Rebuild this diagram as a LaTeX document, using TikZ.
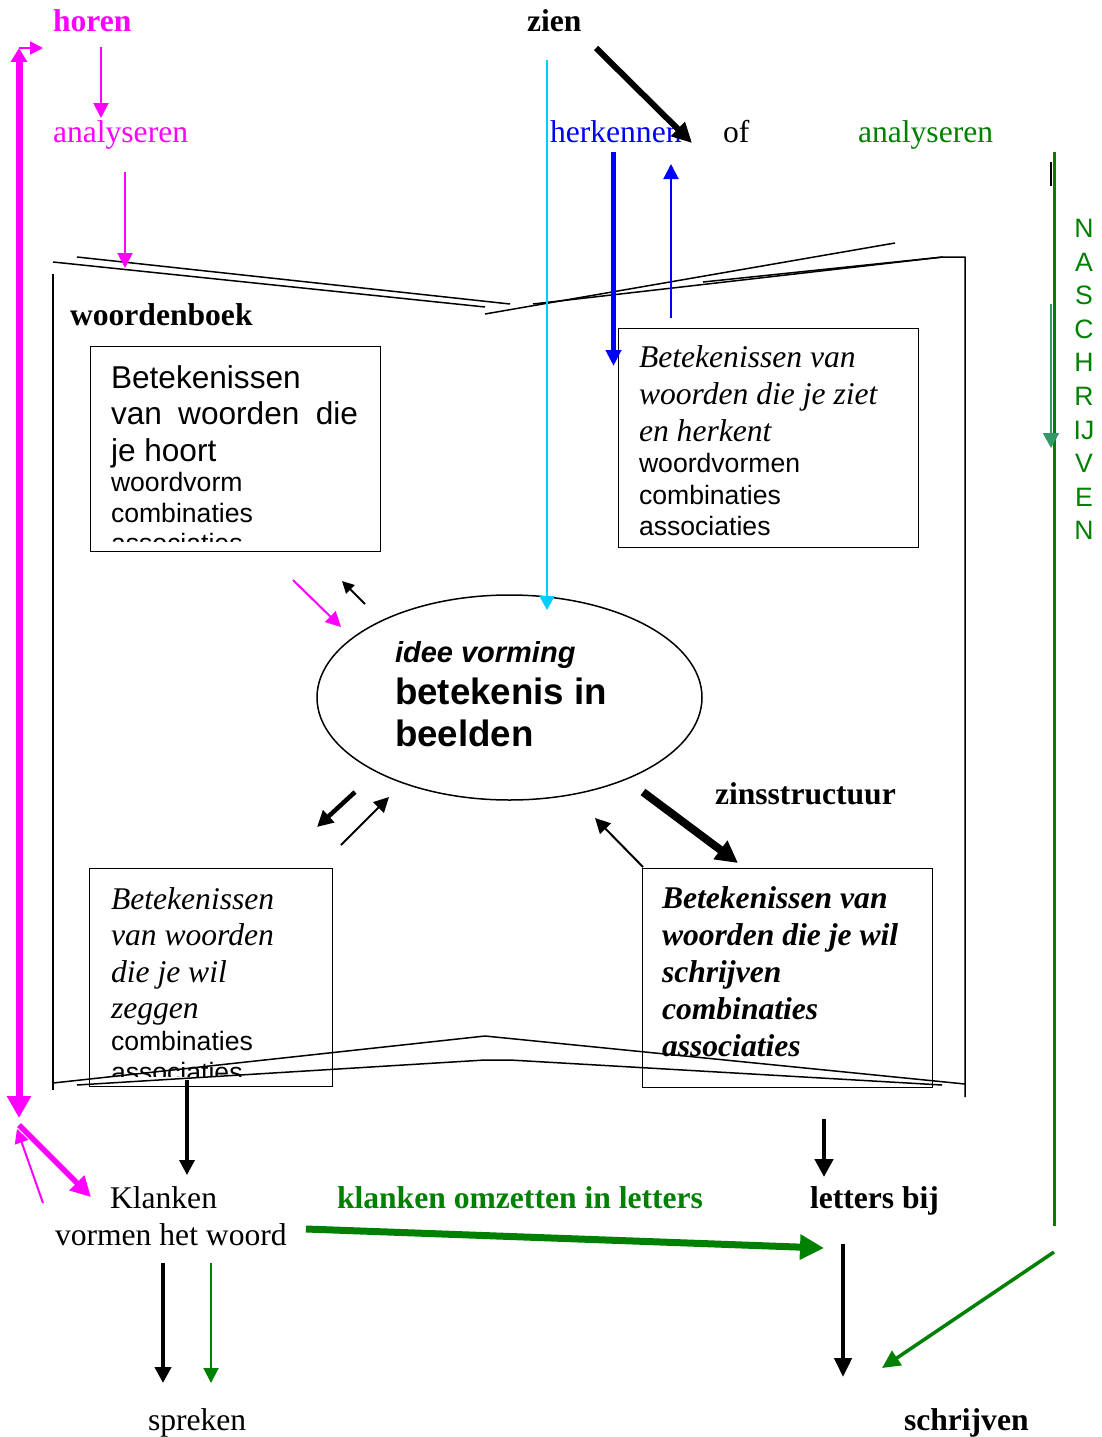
\documentclass[tikz,border=0pt]{standalone}
\usepackage{fontspec}
\setmainfont{Liberation Serif}
\setsansfont{Liberation Sans}
\usetikzlibrary{arrows.meta,shapes.geometric}
\definecolor{mag}{RGB}{255,0,255}
\definecolor{grn}{RGB}{0,128,0}
\definecolor{blu}{RGB}{0,0,255}
\definecolor{cyn}{RGB}{0,204,255}
\definecolor{teal2}{RGB}{51,153,102}
\tikzset{
  txt/.style={inner sep=0pt, outer sep=0pt, anchor=base west},
  fser/.style={font={\fontsize{31.6}{37}\selectfont}},
  fserb/.style={font={\fontsize{31.6}{37}\selectfont\bfseries}},
  bookline/.style={line width=1.5pt, black, line join=round},
  boxx/.style={draw, line width=1.2pt, inner sep=0pt, anchor=north west},
  tipA/.style={-{Triangle[length=#1pt,width=#1pt]}},
}
\begin{document}
\begin{tikzpicture}[x=1pt,y=-1pt]
\useasboundingbox (0,0) rectangle (1101,1437);

% ---------- book outline ----------
\coordinate (tl1a) at (53,262);  \coordinate (tl1b) at (485,307);
\coordinate (tl2a) at (77,257);  \coordinate (tl2b) at (510,304);
\coordinate (tr1a) at (485,314); \coordinate (tr1b) at (895,243);
\coordinate (tr2a) at (533,304); \coordinate (tr2b) at (943,257);
\coordinate (tr3a) at (703,282);
\coordinate (rc)   at (965,257); \coordinate (rb)   at (965,1097);
\coordinate (lvt)  at (53,274);  \coordinate (lvb)  at (53,1090);
\coordinate (bu1)  at (53,1083); \coordinate (bu2)  at (485,1036); \coordinate (bu3) at (965,1084);
\coordinate (bl1)  at (77,1085); \coordinate (bl2)  at (485,1060); \coordinate (bl3) at (510,1060); \coordinate (bl4) at (942,1085);
\draw[bookline] (tl1a) -- (tl1b);
\draw[bookline] (tl2a) -- (tl2b);
\draw[bookline] (tr1a) -- (tr1b);
\draw[bookline] (tr2a) -- (tr2b) -- (rc) -- (rb);
\draw[bookline] (tr3a) -- (tr2b);
\draw[bookline] (lvt) -- (lvb);
\draw[bookline] (bu1) -- (bu2) -- (bu3);
\draw[bookline] (bl1) -- (bl2) -- (bl3) -- (bl4);

% ---------- top labels ----------
\node[txt, fserb, text=mag] (horen) at (53,32) {horen};
\node[txt, fserb] (zien) at (527,32) {zien};
\node[txt, fser, text=mag] (anaL) at (53,142) {analyseren};
\node[txt, fser, text=blu] (herk) at (550,142) {herkennen};
\node[txt, fser] (of) at (723,142) {of};
\node[txt, fser, text=grn] (anaR) at (858,142) {analyseren};
\node[txt, fserb] (wb) at (70,325) {woordenboek};
\node[txt, fserb] (zins) at (715,804) {zinsstructuur};

% ---------- boxes ----------
\node[boxx, minimum width=290pt, minimum height=205pt] (boxLT) at (90,346) {};
\node[boxx, minimum width=300pt, minimum height=219pt] (boxRT) at (618,328) {};
\node[boxx, minimum width=243pt, minimum height=218pt] (boxLB) at (89,868) {};
\node[boxx, minimum width=290pt, minimum height=219pt] (boxRB) at (642,868) {};

\begin{scope}
\clip (90,346) rectangle (380,541);
\node[txt] (tLT) at (111,388) {\begin{minipage}[t]{260pt}\sffamily\fontsize{31.6}{36.5}\selectfont
Betekenissen\\\makebox[247pt][s]{van woorden die}\\je hoort\par
\fontsize{26.6}{30.5}\selectfont woordvorm\\combinaties\\associaties\end{minipage}};
\end{scope}

\node[txt] (tRT) at (639,367) {\begin{minipage}[t]{275pt}\fontsize{31.6}{37}\selectfont\itshape
Betekenissen van\\woorden die je ziet\\en herkent\par
\sffamily\upshape\fontsize{26.6}{31.5}\selectfont woordvormen\\combinaties\\associaties\end{minipage}};

\begin{scope}
\clip (89,868) rectangle (332,1076);
\node[txt] (tLB) at (111,909) {\begin{minipage}[t]{215pt}\fontsize{31.6}{36.5}\selectfont\itshape
Betekenissen\\van woorden\\die je wil\\zeggen\par
\sffamily\upshape\fontsize{26.6}{31.5}\selectfont combinaties\\associaties\end{minipage}};
\end{scope}

\node[txt] (tRB) at (662,908) {\begin{minipage}[t]{265pt}\fontsize{31.6}{37}\selectfont\bfseries\itshape
Betekenissen van\\woorden die je wil\\schrijven\\combinaties\\associaties\end{minipage}};

% ---------- ellipse ----------
\node[ellipse, draw, line width=1.5pt, minimum width=385pt, minimum height=205pt, inner sep=0pt] (idee) at (509.5,697.5) {};
\node[txt] (ideeT) at (395,662) {\begin{minipage}[t]{240pt}\sffamily\bfseries\itshape\fontsize{29}{34}\selectfont
idee vorming\par\upshape\fontsize{36.7}{42}\selectfont betekenis in\\beelden\end{minipage}};

% ---------- NASCHRIJVEN ----------
\foreach [count=\i] \l in {N,A,S,C,H,R,IJ,V,E,N}
  \node[inner sep=0pt, anchor=base, text=grn, font={\sffamily\fontsize{26.6}{30}\selectfont}] (ns\i) at (1084,{237.5+33.6*(\i-1)}) {\l};

% ---------- bottom labels ----------
\node[txt, fser] (klank1) at (110,1208) {Klanken};
\node[txt, fser] (klank2) at (55,1245) {vormen het woord};
\node[txt, fserb, text=grn] (omzet) at (337,1208) {klanken omzetten in letters};
\node[txt, fserb] (lbij) at (810,1208) {letters bij};
\node[txt, fser] (spr) at (148,1430) {spreken};
\node[txt, fserb] (schr) at (904,1430) {schrijven};

% ---------- coordinates for connector ends ----------
\coordinate (mvT) at (19,48);   \coordinate (mvB) at (19,1118);
\coordinate (mhA) at (19,48);   \coordinate (mhB) at (43,48);
\coordinate (h1) at (101,47);   \coordinate (h2) at (101,118);
\coordinate (a1) at (125,172);  \coordinate (a2) at (125,268);
\coordinate (m1) at (293,580);  \coordinate (m2) at (341,627);
\coordinate (md1) at (19,1125); \coordinate (md2) at (91,1197);
\coordinate (mt1) at (43,1203); \coordinate (mt2) at (17,1129);
\coordinate (z1) at (596,48);   \coordinate (z2) at (692,143);
\coordinate (c1) at (547,60);   \coordinate (c2) at (547,610);
\coordinate (b1) at (613.5,152);\coordinate (b2) at (613.5,366);
\coordinate (bt1) at (671,318); \coordinate (bt2) at (671,164);
\coordinate (g1) at (1054,152); \coordinate (g2) at (1054,1226);
\coordinate (tk1) at (1051,162);\coordinate (tk2) at (1051,186);
\coordinate (te1) at (1051,304);\coordinate (te2) at (1051,448);
\coordinate (gd1) at (1054,1252);\coordinate (gd2) at (882,1368);
\coordinate (gk1) at (306,1229);\coordinate (gk2) at (824,1248);
\coordinate (k1) at (365,604);  \coordinate (k2) at (342,581);
\coordinate (k3) at (355,792);  \coordinate (k4) at (317,827);
\coordinate (k5) at (341,845);  \coordinate (k6) at (389,797);
\coordinate (k7) at (643,792);  \coordinate (k8) at (738,863);
\coordinate (k9) at (643,867);  \coordinate (k10) at (595,818);
\coordinate (d1) at (187,1080); \coordinate (d2) at (187,1175);
\coordinate (d3) at (824,1119); \coordinate (d4) at (824,1177);
\coordinate (d5) at (843,1244); \coordinate (d6) at (843,1377);
\coordinate (d7) at (163,1263); \coordinate (d8) at (163,1383);
\coordinate (d9) at (211,1263); \coordinate (d10) at (211,1383);

% ---------- magenta ----------
\draw[mag, line width=7pt, {Triangle[length=14pt,width=16pt]}-{Triangle[length=22pt,width=23pt]}] (mvT) -- (mvB);
\draw[mag, line width=2pt, tipA=13] (mhA) -- (mhB);
\draw[mag, line width=2pt, tipA=15] (h1) -- (h2);
\draw[mag, line width=2pt, tipA=15] (a1) -- (a2);
\draw[mag, line width=2pt, tipA=15] (m1) -- (m2);
\draw[mag, line width=5.5pt, tipA=20] (md1) -- (md2);
\draw[mag, line width=2pt, tipA=14] (mt1) -- (mt2);

% ---------- zien / blue / cyan ----------
\draw[black, line width=6pt, -{Triangle[length=20pt,width=19pt]}] (z1) -- (z2);
\draw[cyn, line width=1.6pt, -{Triangle[length=14pt,width=15pt]}] (c1) -- (c2);
\draw[blu, line width=5.5pt, -{Triangle[length=16pt,width=15pt]}] (b1) -- (b2);
\draw[blu, line width=2pt, tipA=15] (bt1) -- (bt2);

% ---------- green right ----------
\draw[grn, line width=3pt] (g1) -- (g2);
\draw[black, line width=2.5pt] (tk1) -- (tk2);
\draw[teal2, line width=2pt, -{Triangle[length=15pt,width=16pt]}] (te1) -- (te2);
\draw[grn, line width=3.5pt, -{Triangle[length=18pt,width=17pt]}] (gd1) -- (gd2);
\draw[grn, line width=7pt, -{Triangle[length=24pt,width=24pt]}] (gk1) -- (gk2);

% ---------- black arrows near ellipse ----------
\draw[black, line width=2pt, tipA=12] (k1) -- (k2);
\draw[black, line width=4.5pt, tipA=16] (k3) -- (k4);
\draw[black, line width=2pt, tipA=15] (k5) -- (k6);
\draw[black, line width=8pt, -{Triangle[length=22pt,width=22pt]}] (k7) -- (k8);
\draw[black, line width=2pt, tipA=15] (k9) -- (k10);

% ---------- bottom black/green ----------
\draw[black, line width=3.5pt, tipA=15] (d1) -- (d2);
\draw[black, line width=4.5pt, tipA=18] (d3) -- (d4);
\draw[black, line width=4.5pt, -{Triangle[length=19pt,width=17pt]}] (d5) -- (d6);
\draw[black, line width=4.5pt, tipA=16] (d7) -- (d8);
\draw[grn, line width=2pt, tipA=15] (d9) -- (d10);
\end{tikzpicture}
\end{document}
